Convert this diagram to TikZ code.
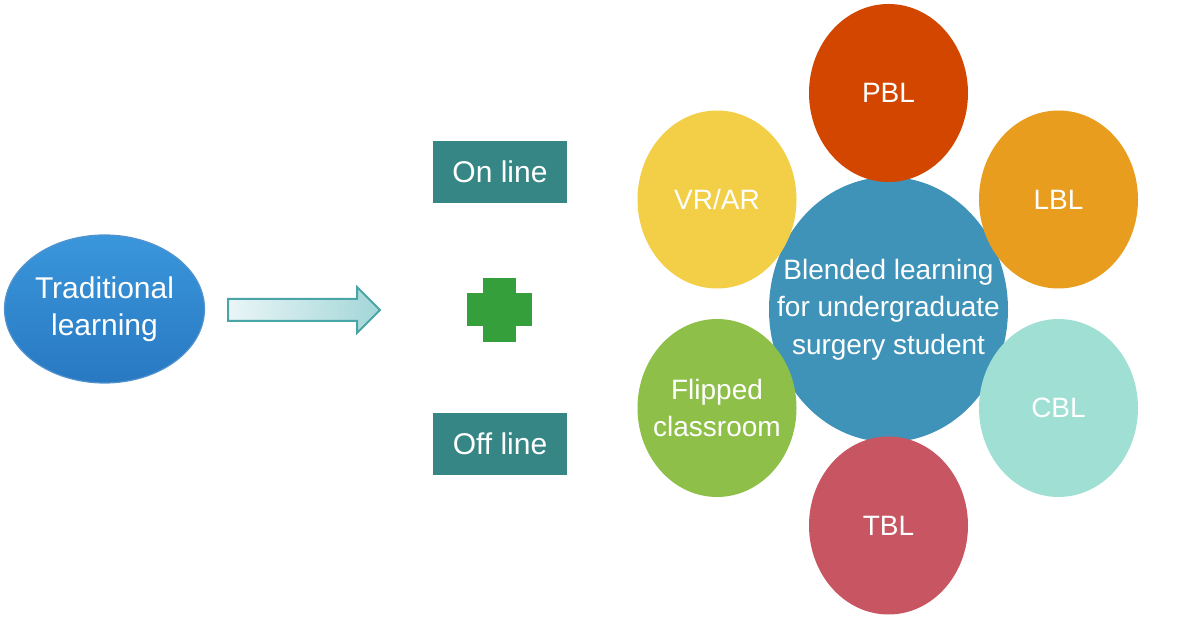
\documentclass[tikz,border=0pt]{standalone}
\usepackage{fontspec}
\setmainfont{Liberation Sans}
\usetikzlibrary{shapes.geometric}
\definecolor{cPBL}{HTML}{D24600}
\definecolor{cVR}{HTML}{F2CF46}
\definecolor{cLBL}{HTML}{E99D1F}
\definecolor{cCen}{HTML}{3F93B8}
\definecolor{cFlip}{HTML}{8EBF49}
\definecolor{cCBL}{HTML}{A0E0D4}
\definecolor{cTBL}{HTML}{C85662}
\definecolor{cBox}{HTML}{378686}
\definecolor{cPlus}{HTML}{35A03B}
\definecolor{cTradTop}{HTML}{3A96DB}
\definecolor{cTradBot}{HTML}{2879C2}
\definecolor{cArrL}{HTML}{EAF5F7}
\definecolor{cArrR}{HTML}{A3D6D8}
\definecolor{cArrD}{HTML}{4AA6A6}
\tikzset{
  sat/.style={ellipse, inner sep=0pt, minimum width=79.5pt, minimum height=89pt},
  lab/.style={inner sep=0pt, text=white, align=center, font=\fontsize{14}{18.75}\selectfont},
  boxnode/.style={rectangle, fill=cBox, inner sep=0pt, minimum width=67pt,
    minimum height=31pt, text=white, font=\fontsize{15}{18}\selectfont}
}
\begin{document}
\begin{tikzpicture}[x=0.5pt,y=-0.5pt]
\useasboundingbox (0,0) rectangle (1200,619);
% traditional learning
\node[ellipse, inner sep=0pt, minimum width=100pt, minimum height=74pt,
  top color=cTradTop, bottom color=cTradBot, draw=cTradBot!80!white, line width=0.6pt]
  (trad) at (104.5,309) {};
\node[lab, font=\fontsize{15}{18.75}\selectfont] (tradt) at (trad.center) {Traditional\\learning};
% block arrow
\coordinate (a1) at (228,299);
\coordinate (a2) at (357,299);
\coordinate (a3) at (357,287);
\coordinate (a4) at (380,310);
\coordinate (a5) at (357,333);
\coordinate (a6) at (357,321);
\coordinate (a7) at (228,321);
\path[left color=cArrL, right color=cArrR, draw=cArrD, line width=1pt]
  (a1) -- (a2) -- (a3) -- (a4) -- (a5) -- (a6) -- (a7) -- cycle;
% boxes
\node[boxnode] (online) at (500,172) {On line};
\node[boxnode] (offline) at (500,444) {Off line};
% plus
\node[inner sep=0pt, minimum size=0pt] (plus) at (499.5,310) {};
\fill[cPlus] ([xshift=-16.25pt,yshift=8.25pt]plus.center) rectangle ([xshift=16.25pt,yshift=-8.25pt]plus.center);
\fill[cPlus] ([xshift=-8.25pt,yshift=16pt]plus.center) rectangle ([xshift=8.25pt,yshift=-16pt]plus.center);
% center circle
\node[ellipse, fill=cCen, inner sep=0pt, minimum width=119.5pt, minimum height=132.5pt]
  (cen) at (888.5,309.5) {};
% satellites
\node[sat, fill=cPBL] (pbl) at (888.5,93) {};
\node[sat, fill=cVR] (vr) at (717,199.5) {};
\node[sat, fill=cLBL] (lbl) at (1058.5,199.5) {};
\node[sat, fill=cFlip] (flip) at (717,408) {};
\node[sat, fill=cCBL] (cbl) at (1058.5,408) {};
\node[sat, fill=cTBL] (tbl) at (888.5,525.5) {};
% labels
\node[lab] (cent) at (cen.center) {Blended learning\\for undergraduate\\surgery student};
\node[lab] (pblt) at (pbl.center) {PBL};
\node[lab] (vrt) at (vr.center) {VR/AR};
\node[lab] (lblt) at (lbl.center) {LBL};
\node[lab] (flipt) at (flip.center) {Flipped\\classroom};
\node[lab] (cblt) at (cbl.center) {CBL};
\node[lab] (tblt) at (tbl.center) {TBL};
\end{tikzpicture}
\end{document}
